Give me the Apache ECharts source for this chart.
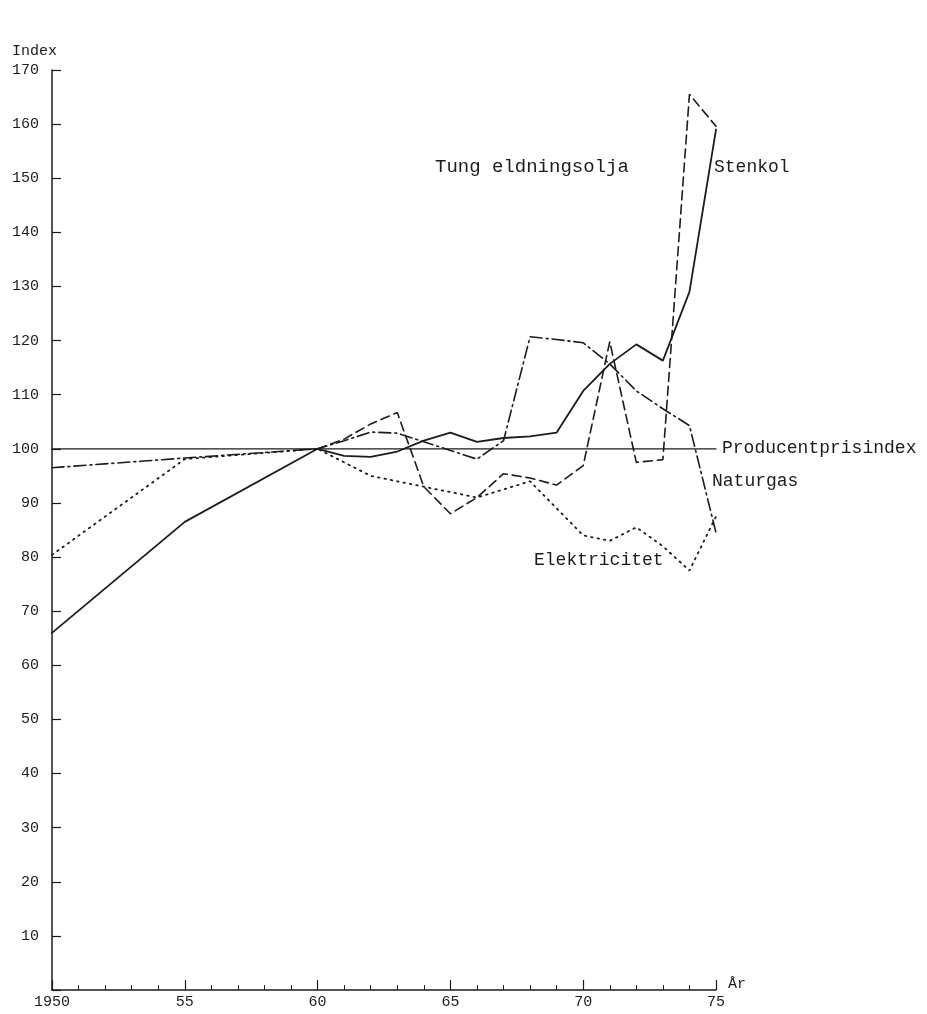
<!DOCTYPE html>
<html>
<head>
<meta charset="utf-8">
<script src="https://cdn.jsdelivr.net/npm/echarts@6/dist/echarts.min.js"></script>
<style>
html,body{margin:0;padding:0;background:#fff;}
#chart{width:927px;height:1014px;}
</style>
</head>
<body>
<div id="chart"></div>
<script>
// ---- data ----
const stenkolYears = [1950,1955,1960,1961,1962,1963,1964,1965,1966,1967,1968,1969,1970,1971,1972,1973,1974,1975];
const stenkol      = [66,86.5,100,98.7,98.5,99.5,101.5,103,101.3,102,102.3,103,110.7,115.7,119.3,116.3,129,159];

const oljaYears = [1960,1961,1962,1963,1964,1965,1966,1967,1968,1969,1970,1971,1972,1973,1974,1975];
const olja      = [100,101.8,104.6,106.7,93,88,91,95.4,94.6,93.3,96.9,119.8,97.5,98,165.5,159.6];

const naturgasYears = [1950,1955,1960,1961,1962,1963,1964,1965,1966,1967,1968,1969,1970,1971,1972,1973,1974,1975];
const naturgas      = [96.5,98.3,100,101.5,103.1,102.9,101.3,99.7,98.1,101.5,120.7,120.2,119.6,115.7,110.7,107.4,104.3,84.5];

const elYears = [1950,1955,1960,1961,1962,1963,1964,1965,1966,1967,1968,1969,1970,1971,1972,1973,1974,1975];
const el      = [80.4,98.1,100,97.5,95,94,93,92,91,92.5,94,89,84,83,85.5,82,77.5,87.5];

const ppiYears = [1950,1975];
const ppi      = [100,100];

const labels = {
  y: 'Index', x: 'År',
  stenkol: 'Stenkol', olja: 'Tung eldningsolja', ppi: 'Producentprisindex',
  naturgas: 'Naturgas', el: 'Elektricitet'
};

const pairs = (xs, ys) => xs.map((x, i) => [x, ys[i]]);

const INK = '#1c1c1c';
const MONO = '"Liberation Mono", "DejaVu Sans Mono", monospace';

function lineSeries(name, xs, ys, type, width) {
  return {
    name, type: 'line', data: pairs(xs, ys), symbol: 'none',
    lineStyle: { color: INK, width: width, type: type, cap: 'round' },
    animation: false, z: 3
  };
}

const chart = echarts.init(document.getElementById('chart'), null, { renderer: 'canvas' });
chart.setOption({
  backgroundColor: '#fff',
  animation: false,
  grid: { left: 52, right: 211, top: 70, bottom: 24, containLabel: false },
  xAxis: {
    type: 'value', min: 1950, max: 1975, interval: 5,
    axisLine: { lineStyle: { color: INK, width: 1.5 } },
    axisTick: { inside: true, length: 10, lineStyle: { color: INK, width: 1.2 } },
    minorTick: { show: true, splitNumber: 5, length: 5, lineStyle: { color: INK, width: 1 } },
    splitLine: { show: false },
    axisLabel: {
      color: INK, fontFamily: MONO, fontSize: 15, margin: 5,
      formatter: v => v === 1950 ? '1950' : String(v).slice(2)
    },
    name: labels.x, nameLocation: 'end', nameGap: 12,
    nameTextStyle: { color: INK, fontFamily: MONO, fontSize: 15, verticalAlign: 'bottom', padding: [0,0,-2,0] }
  },
  yAxis: {
    type: 'value', min: 0, max: 170, interval: 10,
    axisLine: { lineStyle: { color: INK, width: 1.5 } },
    axisTick: { inside: true, length: 9, lineStyle: { color: INK, width: 1.2 } },
    splitLine: { show: false },
    axisLabel: {
      color: INK, fontFamily: MONO, fontSize: 15, margin: 13,
      formatter: v => v === 0 ? '' : String(v)
    }
  },
  graphic: [
    { type: 'text', left: 12, top: 44, style: { text: labels.y, fill: INK, font: '15px ' + MONO } },
    { type: 'text', left: 435, top: 157, style: { text: labels.olja, fill: INK, font: '19px ' + MONO } },
    { type: 'text', left: 714, top: 158, style: { text: labels.stenkol, fill: INK, font: '18px ' + MONO } },
    { type: 'text', left: 722, top: 439, style: { text: labels.ppi, fill: INK, font: '18px ' + MONO } },
    { type: 'text', left: 712, top: 472, style: { text: labels.naturgas, fill: INK, font: '18px ' + MONO } },
    { type: 'text', left: 534, top: 551, style: { text: labels.el, fill: INK, font: '18px ' + MONO } }
  ],
  series: [
    lineSeries(labels.ppi, ppiYears, ppi, 'solid', 1.3),
    lineSeries(labels.stenkol, stenkolYears, stenkol, 'solid', 1.8),
    lineSeries(labels.olja, oljaYears, olja, [9, 5], 1.6),
    lineSeries(labels.naturgas, naturgasYears, naturgas, [12, 4, 2, 4], 1.6),
    lineSeries(labels.el, elYears, el, [1.5, 5], 1.8)
  ]
});
</script>
</body>
</html>
